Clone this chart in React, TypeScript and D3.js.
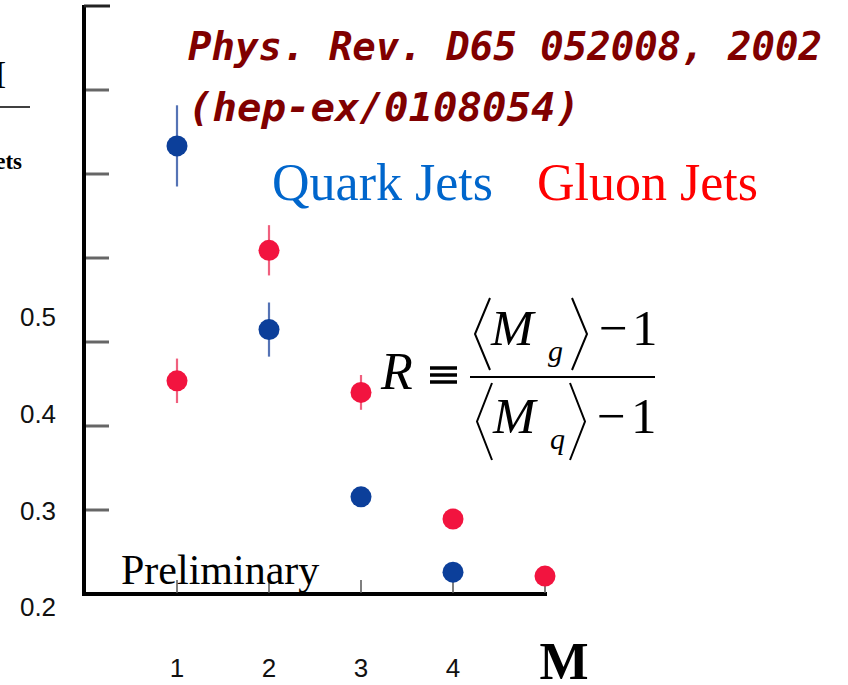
import React from "react";
import * as d3 from "d3";

const categories = [1, 2, 3, 4, 5];
const xTickLabels = ["1", "2", "3", "4"];
const yTickLabels = [0.2, 0.3, 0.4, 0.5];
const frameTicks = [1, 2, 3, 4, 5, 6];

const quarkM = [1, 2, 3, 4];
const quarkValues = [0.677, 0.487, 0.314, 0.236];
const quarkErrors = [0.042, 0.028, 0.01, 0.006];

const gluonM = [1, 2, 3, 4, 5];
const gluonValues = [0.434, 0.569, 0.422, 0.291, 0.232];
const gluonErrors = [0.023, 0.026, 0.018, 0.006, 0.005];

const W = 848;
const H = 685;

export default function App() {
  const x = d3.scaleLinear().domain([1, 5]).range([177, 545]);
  const y = d3.scaleLinear().domain([0.2, 0.5]).range([607, 317]);
  const frame = d3.scaleLinear().domain([0, 7]).range([594, 6]);

  const serif = "'Liberation Serif', 'Times New Roman', serif";
  const sans = "'Liberation Sans', Arial, sans-serif";
  const mono = "'DejaVu Sans Mono', monospace";

  const quark = quarkM.map((m, i) => ({ m, v: quarkValues[i], e: quarkErrors[i] }));
  const gluon = gluonM.map((m, i) => ({ m, v: gluonValues[i], e: gluonErrors[i] }));

  const blue = "#0c3f9a";
  const blueErr = "#5573b5";
  const red = "#f2143f";
  const redErr = "#f0607e";

  const bracket = (xl: number, xr: number, top: number, bot: number, dir: number) => {
    const mid = (top + bot) / 2;
    return dir < 0
      ? `M${xr},${top} L${xl},${mid} L${xr},${bot}`
      : `M${xl},${top} L${xr},${mid} L${xl},${bot}`;
  };

  return (
    <svg
      width={W}
      height={H}
      style={{ position: "absolute", left: 0, top: 0, background: "#fff" }}
    >
      <rect width={W} height={H} fill="#fff" />

      {/* cut-off left fragments */}
      <text x={-7} y={88} fontFamily={serif} fontSize={40} fill="#000">I</text>
      <line x1={0} x2={30} y1={107} y2={107} stroke="#000" strokeWidth={1.5} />
      <text x={22} y={169} textAnchor="end" fontFamily={serif} fontWeight="bold" fontSize={23} fill="#000">Jets</text>

      {/* y tick labels (as printed) */}
      {yTickLabels.map((t) => (
        <text key={t} x={38} y={y(t)} dy="0.36em" textAnchor="middle" fontFamily={sans} fontSize={26} fill="#111">
          {t.toFixed(1)}
        </text>
      ))}

      {/* frame: y axis */}
      <line x1={84} x2={84} y1={5} y2={596} stroke="#000" strokeWidth={4} />
      <line x1={84} x2={110} y1={6} y2={6} stroke="#222" strokeWidth={3} />
      {frameTicks.map((t) => (
        <line key={t} x1={86} x2={109} y1={frame(t)} y2={frame(t)} stroke="#666" strokeWidth={3} />
      ))}
      {/* x axis */}
      <line x1={82} x2={547} y1={594} y2={594} stroke="#000" strokeWidth={4} />
      {categories.map((c) => (
        <line key={c} x1={x(c)} x2={x(c)} y1={580} y2={593} stroke="#555" strokeWidth={1.5} />
      ))}

      {/* x tick labels */}
      {xTickLabels.map((t, i) => (
        <text key={t} x={x(categories[i])} y={668} dy="0.36em" textAnchor="middle" fontFamily={sans} fontSize={26} fill="#111">
          {t}
        </text>
      ))}
      <text x={564} y={679} textAnchor="middle" fontFamily={serif} fontWeight="bold" fontSize={52} fill="#000">M</text>

      {/* Preliminary */}
      <text x={121} y={584} fontFamily={serif} fontSize={42} fill="#000">Preliminary</text>

      {/* error bars + points */}
      {quark.map((d) => (
        <g key={"q" + d.m}>
          <line x1={x(d.m)} x2={x(d.m)} y1={y(d.v + d.e)} y2={y(d.v - d.e)} stroke={blueErr} strokeWidth={2.2} />
          <circle cx={x(d.m)} cy={y(d.v)} r={10.5} fill={blue} />
        </g>
      ))}
      {gluon.map((d) => (
        <g key={"g" + d.m}>
          <line x1={x(d.m)} x2={x(d.m)} y1={y(d.v + d.e)} y2={y(d.v - d.e)} stroke={redErr} strokeWidth={2.2} />
          <circle cx={x(d.m)} cy={y(d.v)} r={10.5} fill={red} />
        </g>
      ))}

      {/* reference */}
      <text x={188} y={60} fontFamily={mono} fontWeight="bold" fontStyle="italic" fontSize={39} fill="#800000" textLength={634} lengthAdjust="spacingAndGlyphs">
        Phys. Rev. D65 052008, 2002
      </text>
      <text x={188} y={121} fontFamily={mono} fontWeight="bold" fontStyle="italic" fontSize={39} fill="#800000" textLength={392} lengthAdjust="spacingAndGlyphs">
        (hep-ex/0108054)
      </text>

      {/* legend */}
      <text x={272} y={200} fontFamily={serif} fontSize={52} fill="#0066cc">Quark Jets</text>
      <text x={537} y={200} fontFamily={serif} fontSize={52} fill="#ff0000">Gluon Jets</text>

      {/* formula */}
      <g fill="#000" fontFamily={serif}>
        <text x={381} y={389} fontStyle="italic" fontSize={52}>R</text>
        {[368, 375, 382].map((yy) => (
          <line key={yy} x1={430} x2={457} y1={yy} y2={yy} stroke="#000" strokeWidth={3.5} />
        ))}
        <line x1={470} x2={655} y1={377} y2={377} stroke="#000" strokeWidth={2} />
        <path d={bracket(475, 490, 298, 370, -1)} fill="none" stroke="#000" strokeWidth={2} />
        <path d={bracket(572, 587, 298, 370, 1)} fill="none" stroke="#000" strokeWidth={2} />
        <text x={491} y={345} fontStyle="italic" fontSize={51}>M</text>
        <text x={548} y={361} fontStyle="italic" fontSize={30}>g</text>
        <text x={599} y={345} fontSize={51}>−</text>
        <text x={632} y={345} fontSize={51}>1</text>
        <path d={bracket(477, 492, 383, 460, -1)} fill="none" stroke="#000" strokeWidth={2} />
        <path d={bracket(570, 585, 383, 460, 1)} fill="none" stroke="#000" strokeWidth={2} />
        <text x={493} y={433} fontStyle="italic" fontSize={51}>M</text>
        <text x={550} y={449} fontStyle="italic" fontSize={30}>q</text>
        <text x={597} y={433} fontSize={51}>−</text>
        <text x={631} y={433} fontSize={51}>1</text>
      </g>
    </svg>
  );
}
